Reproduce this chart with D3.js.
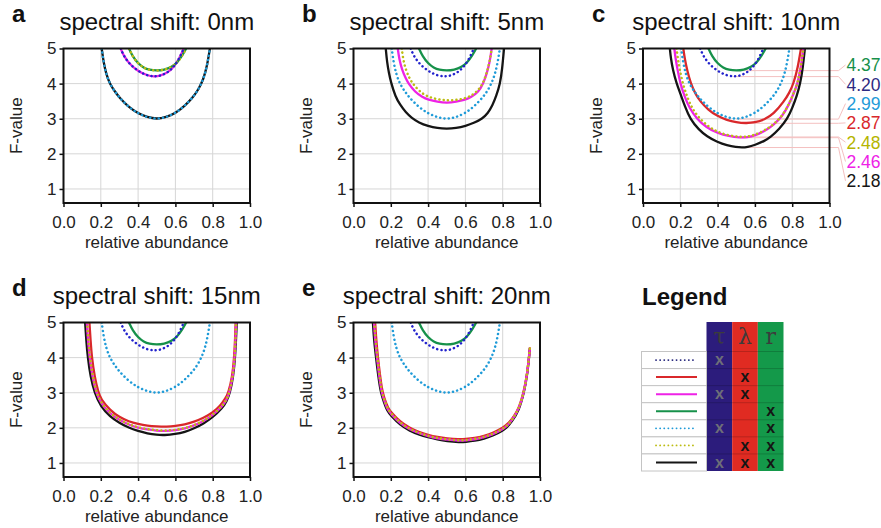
<!DOCTYPE html>
<html>
<head>
<meta charset="utf-8">
<script src="https://cdn.jsdelivr.net/npm/d3@7"></script>
<style>
  body { margin: 0; background: #fff; }
  svg { display: block; font-family: Arial, "Liberation Sans", sans-serif; }
</style>
</head>
<body>
<svg id="chart" width="881" height="528"></svg>
<script>
(function () {
  'use strict';

  // panels
  var panelLetters = ['a', 'b', 'c', 'd', 'e'];
  var shifts = [0, 5, 10, 15, 20];
  var xTicks = [0, 0.2, 0.4, 0.6, 0.8, 1.0];
  var yTicks = [1, 2, 3, 4, 5];

  // curves that do not depend on the spectral shift: [relative abundance, F-value]
  var tauCurve = [[0.307,5.0],[0.32,4.82],[0.35,4.58],[0.40,4.35],[0.45,4.23],[0.485,4.20],[0.52,4.22],
    [0.56,4.32],[0.59,4.47],[0.62,4.70],[0.645,5.0]];
  var rCurve = [[0.351,5.0],[0.37,4.78],[0.40,4.57],[0.43,4.45],[0.46,4.39],[0.50,4.37],[0.54,4.39],
    [0.58,4.47],[0.61,4.60],[0.635,4.78],[0.658,5.0]];
  var tauRCurve = [[0.205,5.0],[0.215,4.6],[0.23,4.25],[0.25,3.98],[0.275,3.78],[0.30,3.6],[0.35,3.33],
    [0.40,3.15],[0.45,3.04],[0.50,2.99],[0.55,3.04],[0.60,3.16],[0.65,3.36],[0.70,3.65],[0.725,3.85],
    [0.75,4.12],[0.77,4.5],[0.785,5.0]];

  // curves that change with the shift (one entry per panel a..e)
  var lambdaCurves = [
    [],
    [],
    [[0.216,5.0],[0.224,4.7],[0.236,4.4],[0.256,4.0],[0.28,3.72],[0.306,3.5],[0.35,3.25],[0.40,3.07],
     [0.45,2.96],[0.50,2.9],[0.55,2.87],[0.60,2.89],[0.65,2.97],[0.70,3.13],[0.757,3.5],[0.785,3.74],
     [0.807,4.0],[0.83,4.45],[0.847,5.0]],
    [[0.139,5.0],[0.145,4.5],[0.152,4.0],[0.167,3.45],[0.1875,3.0],[0.20,2.82],[0.25,2.5],[0.30,2.3],
     [0.35,2.18],[0.40,2.11],[0.45,2.06],[0.50,2.04],[0.554,2.03],[0.60,2.05],[0.65,2.09],[0.70,2.17],
     [0.75,2.28],[0.80,2.43],[0.84,2.62],[0.87,2.85],[0.884,3.0],[0.905,3.45],[0.915,4.0],[0.92,4.5],[0.923,5.0]],
    [[0.116,5.0],[0.122,4.5],[0.131,4.0],[0.142,3.5],[0.155,3.0],[0.175,2.7],[0.188,2.55],[0.20,2.45],
     [0.25,2.17],[0.30,2.0],[0.35,1.88],[0.40,1.80],[0.45,1.74],[0.50,1.70],[0.565,1.67],[0.60,1.68],
     [0.65,1.71],[0.70,1.77],[0.75,1.86],[0.80,2.0],[0.83,2.12],[0.86,2.32],[0.89,2.6],[0.912,3.0],
     [0.931,3.5],[0.946,4.29]]
  ];
  var tauLambdaCurves = [
    tauCurve,
    [[0.2375,5.0],[0.245,4.7],[0.26,4.4],[0.28,4.15],[0.295,4.0],[0.33,3.76],[0.37,3.61],[0.40,3.54],
     [0.45,3.48],[0.50,3.45],[0.55,3.48],[0.60,3.54],[0.63,3.61],[0.67,3.76],[0.696,4.0],[0.715,4.3],
     [0.73,4.6],[0.741,5.0]],
    [[0.168,5.0],[0.175,4.7],[0.185,4.4],[0.20,4.0],[0.225,3.6],[0.25,3.3],[0.288,3.0],[0.34,2.75],
     [0.40,2.59],[0.46,2.5],[0.52,2.46],[0.56,2.47],[0.60,2.52],[0.65,2.64],[0.70,2.82],[0.748,3.08],
     [0.78,3.38],[0.805,3.68],[0.829,4.0],[0.846,4.45],[0.86,5.0]],
    [[0.125,5.0],[0.131,4.5],[0.14,4.0],[0.155,3.45],[0.175,3.0],[0.20,2.7],[0.25,2.4],[0.30,2.22],
     [0.35,2.09],[0.40,2.0],[0.45,1.95],[0.50,1.92],[0.545,1.91],[0.60,1.93],[0.65,1.98],[0.70,2.06],
     [0.75,2.19],[0.80,2.36],[0.85,2.6],[0.875,2.8],[0.89,3.0],[0.908,3.45],[0.918,4.0],[0.922,4.5],[0.926,5.0]],
    [[0.11,5.0],[0.116,4.5],[0.126,4.0],[0.137,3.5],[0.15,3.0],[0.17,2.7],[0.183,2.52],[0.20,2.4],
     [0.25,2.12],[0.30,1.96],[0.35,1.85],[0.40,1.76],[0.45,1.70],[0.50,1.66],[0.568,1.63],[0.60,1.64],
     [0.65,1.67],[0.70,1.73],[0.75,1.82],[0.80,1.96],[0.825,2.06],[0.855,2.25],[0.888,2.55],[0.913,3.0],
     [0.931,3.5],[0.946,4.27]]
  ];
  var lambdaRCurves = [
    rCurve,
    [[0.259,5.0],[0.266,4.7],[0.28,4.4],[0.30,4.15],[0.318,4.0],[0.35,3.8],[0.39,3.64],[0.45,3.55],
     [0.50,3.52],[0.55,3.53],[0.60,3.58],[0.64,3.68],[0.67,3.82],[0.696,4.02],[0.715,4.32],[0.73,4.62],[0.741,5.0]],
    [[0.18,5.0],[0.187,4.7],[0.197,4.4],[0.213,4.0],[0.238,3.6],[0.263,3.3],[0.30,3.02],[0.35,2.78],
     [0.40,2.62],[0.46,2.52],[0.52,2.48],[0.56,2.49],[0.60,2.54],[0.65,2.66],[0.70,2.83],[0.748,3.09],
     [0.78,3.39],[0.805,3.69],[0.829,4.0],[0.846,4.45],[0.86,5.0]],
    [[0.127,5.0],[0.133,4.5],[0.142,4.0],[0.157,3.45],[0.177,3.0],[0.202,2.71],[0.25,2.41],[0.30,2.23],
     [0.35,2.10],[0.40,2.01],[0.45,1.96],[0.50,1.93],[0.545,1.92],[0.60,1.94],[0.65,1.99],[0.70,2.07],
     [0.75,2.2],[0.80,2.37],[0.85,2.61],[0.875,2.81],[0.89,3.01],[0.908,3.46],[0.918,4.0],[0.922,4.5],[0.926,5.0]],
    [[0.112,5.0],[0.118,4.5],[0.128,4.0],[0.139,3.5],[0.152,3.0],[0.172,2.7],[0.185,2.53],[0.20,2.42],
     [0.25,2.14],[0.30,1.97],[0.35,1.86],[0.40,1.77],[0.45,1.71],[0.50,1.67],[0.568,1.64],[0.60,1.65],
     [0.65,1.68],[0.70,1.74],[0.75,1.83],[0.80,1.97],[0.825,2.07],[0.855,2.26],[0.888,2.56],[0.913,3.01],
     [0.931,3.51],[0.946,4.28]]
  ];
  var allCurves = [
    tauRCurve,
    [[0.173,5.0],[0.18,4.6],[0.19,4.3],[0.20,4.05],[0.225,3.62],[0.25,3.4],[0.28,3.18],[0.3125,3.02],
     [0.35,2.89],[0.40,2.79],[0.45,2.73],[0.50,2.71],[0.55,2.73],[0.60,2.79],[0.65,2.89],[0.69,3.0],
     [0.72,3.15],[0.745,3.38],[0.765,3.64],[0.786,4.0],[0.797,4.4],[0.807,5.0]],
    [[0.144,5.0],[0.15,4.7],[0.16,4.4],[0.18,4.0],[0.20,3.72],[0.225,3.35],[0.252,3.0],[0.30,2.68],
     [0.342,2.5],[0.40,2.33],[0.45,2.24],[0.50,2.19],[0.53,2.18],[0.56,2.19],[0.60,2.25],[0.65,2.36],
     [0.685,2.48],[0.73,2.7],[0.775,3.0],[0.80,3.3],[0.825,3.65],[0.843,4.0],[0.857,4.45],[0.868,5.0]],
    [[0.116,5.0],[0.122,4.5],[0.13,4.0],[0.145,3.45],[0.166,3.0],[0.20,2.6],[0.25,2.32],[0.30,2.14],
     [0.35,2.0],[0.40,1.91],[0.45,1.84],[0.50,1.80],[0.54,1.79],[0.60,1.82],[0.65,1.88],[0.70,1.98],
     [0.75,2.12],[0.80,2.3],[0.85,2.55],[0.875,2.75],[0.893,3.0],[0.91,3.45],[0.92,4.0],[0.925,4.5],[0.929,5.0]],
    [[0.104,5.0],[0.11,4.5],[0.121,4.0],[0.132,3.5],[0.146,3.0],[0.165,2.7],[0.179,2.5],[0.20,2.35],
     [0.25,2.08],[0.30,1.92],[0.35,1.81],[0.40,1.73],[0.45,1.67],[0.50,1.62],[0.57,1.59],[0.60,1.60],
     [0.65,1.63],[0.70,1.69],[0.75,1.78],[0.80,1.92],[0.821,2.0],[0.85,2.18],[0.8875,2.5],[0.914,3.0],
     [0.932,3.5],[0.946,4.26]]
  ];

  // minima printed next to panel c
  var cLabelKeys = ['r', 'tau', 'tauR', 'lambda', 'lambdaR', 'tauLambda', 'all'];
  var cLabelValues = ['4.37', '4.20', '2.99', '2.87', '2.48', '2.46', '2.18'];

  // legend table
  var legendKeys = ['tau', 'lambda', 'tauLambda', 'r', 'tauR', 'lambdaR', 'all'];
  var legendHeaders = ['\u03c4', '\u03bb', 'r'];
  var legendMarks = [[1,0,0],[0,1,0],[1,1,0],[0,0,1],[1,0,1],[0,1,1],[1,1,1]];

  var styles = {
    all:       { color: '#151515', dotted: false },
    lambda:    { color: '#d9282b', dotted: false },
    tauLambda: { color: '#ee22e6', dotted: false },
    r:         { color: '#16914a', dotted: false },
    tauR:      { color: '#1f9bd8', dotted: true },
    lambdaR:   { color: '#bcbc12', dotted: true },
    tau:       { color: '#2222cc', dotted: true }
  };
  var labelColors = { r: '#17904a', tau: '#2d2a82', tauR: '#1f9bd8', lambda: '#d9282b',
    lambdaR: '#b5b500', tauLambda: '#ee22e6', all: '#151515' };
  var drawOrder = ['all', 'lambda', 'tauLambda', 'r', 'tauR', 'lambdaR', 'tau'];

  function curvesFor(i) {
    return {
      tau: tauCurve, r: rCurve, tauR: tauRCurve,
      lambda: lambdaCurves[i], tauLambda: tauLambdaCurves[i],
      lambdaR: lambdaRCurves[i], all: allCurves[i]
    };
  }

  var svg = d3.select('#chart');
  var pw = 186.5, ph = 154.5;
  var lefts = [63.5, 353.5, 643, 63.5, 353.5];
  var tops = [48.5, 48.5, 48.5, 322.5, 322.5];
  var colOffset = [0, 290, 580, 0, 290];

  var x = d3.scaleLinear().domain([0, 1]).range([0, pw]);
  var y = d3.scaleLinear().domain([0.6, 5]).range([ph, 0]);
  var line = d3.line()
      .x(function(d){ return x(d[0]); })
      .y(function(d){ return y(d[1]); })
      .curve(d3.curveBasis);

  panelLetters.forEach(function(letter, i) {
    var g = svg.append('g').attr('transform', 'translate(' + lefts[i] + ',' + tops[i] + ')');

    // panel letter and title
    g.append('text')
      .attr('x', 12 + colOffset[i] - lefts[i])
      .attr('y', -26.5)
      .attr('font-size', 24).attr('font-weight', 'bold').attr('fill', '#111')
      .text(letter);
    g.append('text')
      .attr('x', pw / 2).attr('y', -18.5)
      .attr('text-anchor', 'middle')
      .attr('font-size', 24).attr('fill', '#111')
      .text('spectral shift: ' + shifts[i] + 'nm');

    // grid
    g.append('g').selectAll('line')
      .data(xTicks.slice(1, -1)).enter().append('line')
        .attr('x1', function(d){ return x(d); }).attr('x2', function(d){ return x(d); })
        .attr('y1', 0).attr('y2', ph)
        .attr('stroke', '#d6d6d6').attr('stroke-width', 1);
    g.append('g').selectAll('line')
      .data(yTicks.slice(0, -1)).enter().append('line')
        .attr('x1', 0).attr('x2', pw)
        .attr('y1', function(d){ return y(d); }).attr('y2', function(d){ return y(d); })
        .attr('stroke', '#d6d6d6').attr('stroke-width', 1);

    // leader lines for panel c minima
    if (i === 2) {
      var cs = curvesFor(i);
      cLabelKeys.forEach(function(k, j) {
        var mn = cs[k].reduce(function(a, b){ return b[1] < a[1] ? b : a; });
        var ly = 65 - tops[i] + j * 19.3;
        g.append('polyline')
          .attr('points', [[x(mn[0]), y(+cLabelValues[j])], [pw + 9, y(+cLabelValues[j])], [pw + 16, ly]].join(' '))
          .attr('fill', 'none').attr('stroke', '#f4c0c0').attr('stroke-width', 1);
        g.append('text')
          .attr('x', pw + 17).attr('y', ly).attr('dy', '0.36em')
          .attr('font-size', 17.5).attr('fill', labelColors[k])
          .text(cLabelValues[j]);
      });
    }

    // curves
    var clipId = 'clip' + i;
    g.append('clipPath').attr('id', clipId)
      .append('rect').attr('x', 0).attr('y', 0).attr('width', pw).attr('height', ph);
    var curves = curvesFor(i);
    var cg = g.append('g').attr('clip-path', 'url(#' + clipId + ')');
    drawOrder.forEach(function(k) {
      if (!curves[k].length) return;
      var s = styles[k];
      cg.append('path')
        .datum(curves[k])
        .attr('d', line)
        .attr('fill', 'none')
        .attr('stroke', s.color)
        .attr('stroke-width', s.dotted ? 2.5 : 2.3)
        .attr('stroke-linecap', s.dotted ? 'round' : 'butt')
        .attr('stroke-dasharray', s.dotted ? '0.1,4.2' : null);
    });

    // axes
    var xa = g.append('g').attr('transform', 'translate(0,' + ph + ')')
      .call(d3.axisBottom(x).tickValues(xTicks).tickFormat(d3.format('.1f')).tickSizeInner(4).tickSizeOuter(0).tickPadding(9));
    var ya = g.append('g')
      .call(d3.axisLeft(y).tickValues(yTicks).tickFormat(d3.format('d')).tickSizeInner(4).tickSizeOuter(0).tickPadding(3));
    [xa, ya].forEach(function(a) {
      a.select('.domain').remove();
      a.selectAll('line').attr('stroke', '#111').attr('stroke-width', 1.5);
      a.selectAll('text').attr('font-size', 17).attr('fill', '#222').style('font-family', 'Arial, "Liberation Sans", sans-serif');
    });

    g.append('rect')
      .attr('width', pw).attr('height', ph)
      .attr('fill', 'none').attr('stroke', '#111').attr('stroke-width', 2);

    g.append('text')
      .attr('x', pw / 2).attr('y', ph + 45)
      .attr('text-anchor', 'middle').attr('font-size', 17).attr('fill', '#222')
      .text('relative abundance');
    g.append('text')
      .attr('transform', 'translate(' + (22 + colOffset[i] - lefts[i]) + ',' + (ph / 2) + ') rotate(-90)')
      .attr('text-anchor', 'middle').attr('font-size', 17).attr('fill', '#222')
      .text('F-value');
  });

  // legend
  var lg = svg.append('g');
  lg.append('text')
    .attr('x', 642).attr('y', 305)
    .attr('font-size', 24).attr('font-weight', 'bold').attr('fill', '#111')
    .text('Legend');

  var colX = d3.scaleBand().domain(d3.range(3)).range([706.5, 783.5]);
  var rowY = d3.scaleBand().domain(d3.range(legendKeys.length)).range([351.5, 471]);
  var colColors = ['#2c1c7c', '#e02b22', '#14994a'];

  colColors.forEach(function(c, j) {
    lg.append('rect')
      .attr('x', colX(j)).attr('y', 322).attr('width', colX.bandwidth()).attr('height', 471 - 322)
      .attr('fill', c);
    lg.append('text')
      .attr('x', colX(j) + colX.bandwidth() / 2).attr('y', 344)
      .attr('text-anchor', 'middle').attr('font-size', 22).attr('fill', '#3c3c3c')
      .style('font-family', '"DejaVu Serif", serif')
      .text(legendHeaders[j]);
  });

  legendKeys.forEach(function(k, r) {
    var yy = rowY(r), h = rowY.bandwidth();
    lg.append('rect')
      .attr('x', 641.5).attr('y', yy).attr('width', 706.5 - 641.5).attr('height', h)
      .attr('fill', '#fff').attr('stroke', '#c4c4c4').attr('stroke-width', 1);
    lg.append('line')
      .attr('x1', colX(0)).attr('x2', 783.5).attr('y1', yy).attr('y2', yy)
      .attr('stroke', 'rgba(0,0,0,0.18)').attr('stroke-width', 1);
    var s = styles[k];
    lg.append('line')
      .attr('x1', 656).attr('x2', 697).attr('y1', yy + h / 2).attr('y2', yy + h / 2)
      .attr('stroke', k === 'tau' ? '#22227a' : s.color)
      .attr('stroke-width', s.dotted ? 1.8 : 2)
      .attr('stroke-linecap', s.dotted ? 'round' : 'butt')
      .attr('stroke-dasharray', s.dotted ? '0.1,4' : null);
    legendMarks[r].forEach(function(m, j) {
      if (!m) return;
      lg.append('text')
        .attr('x', colX(j) + colX.bandwidth() / 2).attr('y', yy + h / 2).attr('dy', '0.32em')
        .attr('text-anchor', 'middle').attr('font-size', 16).attr('font-weight', 'bold')
        .attr('fill', j === 0 ? '#6e6e78' : '#151515')
        .text('x');
    });
  });
}());
</script>
</body>
</html>
